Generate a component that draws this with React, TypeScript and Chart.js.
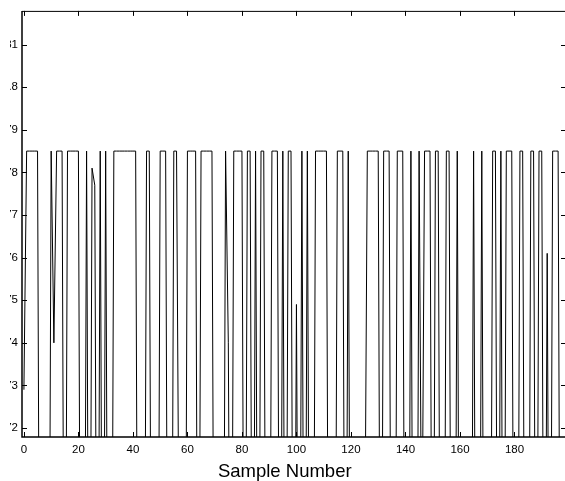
import React, { useEffect, useRef } from "react";
import { Chart, registerables } from "chart.js";

Chart.register(...registerables);

// ---- data ----
const xTickValues = [0, 20, 40, 60, 80, 100, 120, 140, 160, 180];
const yTickValues = [0.72, 0.73, 0.74, 0.75, 0.76, 0.77, 0.78, 0.79, 0.8, 0.81];
const xRange = [-0.7, 198.9];
const yRange = [0.7179, 0.8179];
const axisTitle = "Sample Number";

// sample value per sample number (0 .. 198)
const sampleValues = [
  0.729, 0.785, 0.785, 0.785, 0.785, 0.785, 0.62, 0.62, 0.62, 0.62,
  0.785, 0.74, 0.785, 0.785, 0.785, 0.62, 0.785, 0.785, 0.785, 0.785,
  0.785, 0.62, 0.62, 0.785, 0.62, 0.781, 0.777, 0.62, 0.785, 0.62,
  0.785, 0.62, 0.62, 0.785, 0.785, 0.785, 0.785, 0.785, 0.785, 0.785,
  0.785, 0.785, 0.62, 0.62, 0.62, 0.785, 0.785, 0.62, 0.62, 0.62,
  0.785, 0.785, 0.785, 0.62, 0.62, 0.785, 0.785, 0.68, 0.62, 0.62,
  0.785, 0.785, 0.785, 0.785, 0.62, 0.785, 0.785, 0.785, 0.785, 0.785,
  0.62, 0.62, 0.62, 0.62, 0.785, 0.74, 0.62, 0.785, 0.785, 0.785,
  0.785, 0.62, 0.785, 0.785, 0.62, 0.785, 0.62, 0.785, 0.785, 0.62,
  0.62, 0.785, 0.785, 0.785, 0.62, 0.785, 0.62, 0.785, 0.785, 0.62,
  0.749, 0.62, 0.785, 0.62, 0.785, 0.62, 0.62, 0.785, 0.785, 0.785,
  0.785, 0.785, 0.62, 0.62, 0.62, 0.785, 0.785, 0.785, 0.62, 0.785,
  0.62, 0.62, 0.62, 0.62, 0.62, 0.68, 0.785, 0.785, 0.785, 0.785,
  0.785, 0.62, 0.785, 0.785, 0.785, 0.62, 0.62, 0.785, 0.785, 0.785,
  0.62, 0.62, 0.785, 0.62, 0.62, 0.785, 0.68, 0.785, 0.785, 0.785,
  0.62, 0.785, 0.785, 0.62, 0.62, 0.785, 0.785, 0.62, 0.62, 0.785,
  0.62, 0.62, 0.62, 0.62, 0.62, 0.785, 0.62, 0.62, 0.785, 0.62,
  0.62, 0.62, 0.785, 0.785, 0.62, 0.785, 0.62, 0.785, 0.785, 0.785,
  0.62, 0.62, 0.785, 0.785, 0.62, 0.62, 0.785, 0.785, 0.62, 0.785,
  0.785, 0.62, 0.761, 0.62, 0.785, 0.785, 0.785, 0.62, 0.62,
];

const FONT = "'Liberation Sans', Arial, Helvetica, sans-serif";

const framePlugin = {
  id: "matlabFrame",
  afterDatasetsDraw(chart: any) {
    const { ctx, chartArea, scales } = chart;
    const { left, right, top, bottom } = chartArea;
    const tick = 5;
    ctx.save();
    ctx.strokeStyle = "#000";
    ctx.lineWidth = 1.5;
    ctx.beginPath();
    ctx.moveTo(left, top);
    ctx.lineTo(left, bottom);
    ctx.lineTo(right, bottom);
    ctx.stroke();
    ctx.lineWidth = 1;
    ctx.beginPath();
    ctx.moveTo(left, top + 0.5);
    ctx.lineTo(right, top + 0.5);
    ctx.stroke();
    ctx.beginPath();
    xTickValues.forEach((v) => {
      const px = Math.round(scales.x.getPixelForValue(v)) + 0.5;
      ctx.moveTo(px, bottom);
      ctx.lineTo(px, bottom - tick);
      ctx.moveTo(px, top);
      ctx.lineTo(px, top + tick);
    });
    yTickValues.forEach((v) => {
      const py = Math.round(scales.y.getPixelForValue(v)) + 0.5;
      ctx.moveTo(left, py);
      ctx.lineTo(left + tick, py);
      ctx.moveTo(right, py);
      ctx.lineTo(right - tick, py);
    });
    ctx.stroke();
    ctx.restore();
  },
};

export default function App() {
  const canvasRef = useRef<HTMLCanvasElement | null>(null);

  useEffect(() => {
    const canvas = canvasRef.current;
    if (!canvas) return;
    const chart = new Chart(canvas, {
      type: "line",
      data: {
        datasets: [
          {
            data: sampleValues.map((v, i) => ({ x: i, y: v })),
            borderColor: "#000",
            borderWidth: 1,
            pointRadius: 0,
            tension: 0,
            fill: false,
          },
        ],
      },
      options: {
        responsive: false,
        animation: false,
        devicePixelRatio: 1,
        events: [],
        layout: { padding: { top: 8, right: 4, left: 0, bottom: 0 } },
        plugins: { legend: { display: false }, tooltip: { enabled: false } },
        scales: {
          x: {
            type: "linear",
            min: xRange[0],
            max: xRange[1],
            grid: { display: false, drawTicks: false, tickLength: 0 },
            border: { display: false },
            afterBuildTicks: (scale: any) => {
              scale.ticks = xTickValues.map((v) => ({ value: v }));
            },
            afterFit: (scale: any) => {
              scale.height = 44;
            },
            ticks: {
              color: "#000",
              font: { family: FONT, size: 11.5 },
              padding: 6,
              maxRotation: 0,
              autoSkip: false,
              callback: (v: any) => String(v),
            },
            title: {
              display: true,
              text: axisTitle + "\u2002\u2002",
              color: "#000",
              font: { family: FONT, size: 18.5, lineHeight: 1 },
              padding: { top: 0, bottom: 0 },
            },
          },
          y: {
            type: "linear",
            min: yRange[0],
            max: yRange[1],
            grid: { display: false, drawTicks: false, tickLength: 0 },
            border: { display: false },
            afterBuildTicks: (scale: any) => {
              scale.ticks = yTickValues.map((v) => ({ value: v }));
            },
            afterFit: (scale: any) => {
              scale.width = 22;
            },
            ticks: {
              color: "#000",
              font: { family: FONT, size: 11.5 },
              padding: 4,
              autoSkip: false,
              callback: (v: any) => String(Number(Number(v).toFixed(2))),
            },
          },
        },
      },
      plugins: [framePlugin],
    });
    return () => chart.destroy();
  }, []);

  return (
    <div
      style={{
        position: "fixed",
        left: 0,
        top: 0,
        width: 565,
        height: 481,
        overflow: "hidden",
        background: "#fff",
      }}
    >
      <div
        style={{
          position: "absolute",
          left: 10,
          top: 0,
          width: 555,
          height: 481,
          overflow: "hidden",
        }}
      >
        <canvas
          ref={canvasRef}
          width={570}
          height={481}
          style={{ position: "absolute", left: -10, top: 0, width: 570, height: 481 }}
        />
      </div>
    </div>
  );
}
